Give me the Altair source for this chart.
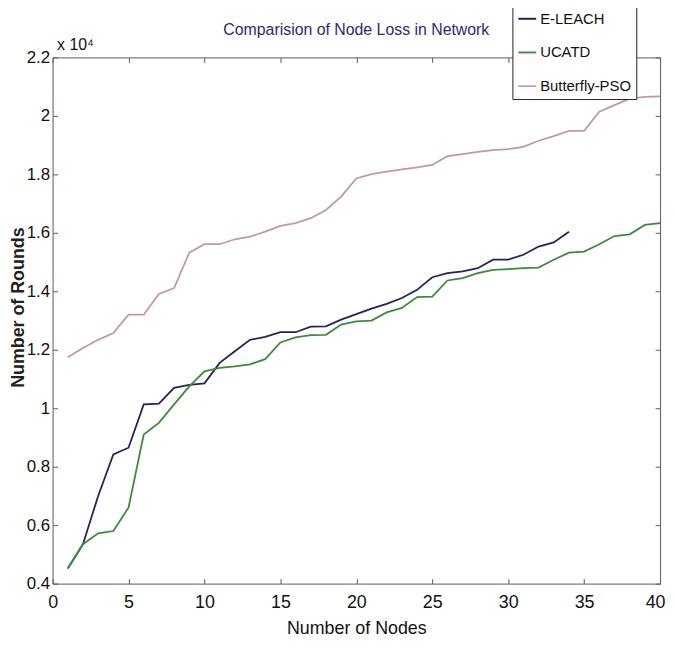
import altair as alt
import pandas as pd

# ---- data (Number of Rounds) ----
series_names = ["E-LEACH", "UCATD", "Butterfly-PSO"]
series_colors = ["#23235e", "#3d8a3d", "#c39a9a"]

eleach_nodes = list(range(1, 35))
eleach_rounds = [4520, 5350, 7000, 8420, 8650, 10130, 10160, 10700, 10800, 10850,
                 11550, 11950, 12340, 12440, 12600, 12600, 12790, 12800, 13030, 13220,
                 13410, 13570, 13770, 14050, 14480, 14620, 14680, 14790, 15080, 15080,
                 15250, 15530, 15670, 16040]

ucatd_nodes = list(range(1, 41))
ucatd_rounds = [4520, 5350, 5720, 5800, 6600, 9100, 9500, 10130, 10750, 11260,
                11380, 11430, 11500, 11680, 12250, 12420, 12500, 12510, 12860, 12970,
                13000, 13280, 13430, 13800, 13820, 14370, 14450, 14620, 14730, 14760,
                14790, 14810, 15080, 15320, 15360, 15610, 15890, 15950, 16270, 16330]

bpso_nodes = list(range(1, 41))
bpso_rounds = [11740, 12060, 12340, 12570, 13200, 13200, 13910, 14110, 15320, 15610,
               15610, 15780, 15870, 16040, 16240, 16330, 16500, 16780, 17240, 17860,
               18010, 18090, 18170, 18240, 18320, 18620, 18690, 18770, 18830, 18860,
               18940, 19150, 19310, 19490, 19490, 20140, 20370, 20590, 20650, 20670]

x_ticks = [0, 5, 10, 15, 20, 25, 30, 35, 40]
y_ticks = [4000, 6000, 8000, 10000, 12000, 14000, 16000, 18000, 20000, 22000]

frames = []
for name, nodes, rounds in [("E-LEACH", eleach_nodes, eleach_rounds),
                            ("UCATD", ucatd_nodes, ucatd_rounds),
                            ("Butterfly-PSO", bpso_nodes, bpso_rounds)]:
    frames.append(pd.DataFrame({"Nodes": nodes, "Rounds": rounds, "Protocol": name}))
df = pd.concat(frames, ignore_index=True)

FONT = "Liberation Sans, Arial, sans-serif"
AXC = "#5a5a5a"

x_scale = alt.Scale(domain=[0, 40], nice=False, zero=False)
y_scale = alt.Scale(domain=[4000, 22000], nice=False, zero=False)

color = alt.Color(
    "Protocol:N",
    scale=alt.Scale(domain=series_names, range=series_colors),
    sort=series_names,
    legend=alt.Legend(
        title=None, orient="none", legendX=464, legendY=-54,
        symbolType="stroke", symbolSize=324, symbolStrokeWidth=1.6,
        labelFont=FONT, labelFontSize=15, labelColor="#111111",
        labelOffset=3, rowPadding=16, padding=5,
        fillColor="white", strokeColor="#222222",
    ),
)

lines = alt.Chart(df).mark_line(strokeWidth=1.8).encode(
    x=alt.X("Nodes:Q", scale=x_scale,
            axis=alt.Axis(values=x_ticks, orient="bottom", offset=-5, tickSize=5,
                          domain=False, grid=False, tickColor=AXC,
                          labelFont=FONT, labelFontSize=18, labelColor="#111111",
                          labelPadding=10, labelFlush=True, labelFlushOffset=5,
                          title="Number of Nodes",
                          titleFont=FONT, titleFontSize=18, titleFontWeight="normal",
                          titleColor="#111111", titlePadding=8)),
    y=alt.Y("Rounds:Q", scale=y_scale,
            axis=alt.Axis(values=y_ticks, orient="left", offset=-5, tickSize=5,
                          domain=False, grid=False, tickColor=AXC,
                          labelExpr="format(datum.value / 10000, '.1~f')",
                          labelFont=FONT, labelFontSize=17, labelColor="#111111",
                          labelPadding=3, title="Number of Rounds",
                          titleFont=FONT, titleFontSize=18,
                          titleFontWeight="bold", titleColor="#222222",
                          titleX=-39, titleY=252, titleAngle=270,
                          titleAlign="center", titleBaseline="middle")),
    color=color,
    strokeWidth=alt.StrokeWidth("Protocol:N",
                                scale=alt.Scale(domain=series_names, range=[2.0, 1.7, 1.2]),
                                legend=None),
)

mirror = alt.Chart(df).mark_line(opacity=0).encode(
    x=alt.X("Nodes:Q", scale=x_scale,
            axis=alt.Axis(values=x_ticks, orient="top", offset=-5, tickSize=5,
                          domain=False, grid=False, tickColor=AXC, labels=False,
                          title="x 10⁴", titleFont=FONT, titleFontSize=16,
                          titleFontWeight="normal", titleColor="#111111",
                          titleAnchor="start", titleAlign="left", titleAngle=0,
                          titleX=4, titleY=-13, titleBaseline="alphabetic")),
    y=alt.Y("Rounds:Q", scale=y_scale,
            axis=alt.Axis(values=y_ticks, orient="right", offset=-5, tickSize=5,
                          domain=False, grid=False, tickColor=AXC, labels=False,
                          title=None)),
    detail="Protocol:N",
)

chart = alt.layer(lines, mirror).resolve_axis(
    x="independent", y="independent"
).properties(
    width=613, height=531,
    title=alt.TitleParams("Comparision of Node Loss in Network", font=FONT,
                          fontSize=16, fontWeight="normal", color="#2a2a72",
                          anchor="middle", offset=0, dy=35),
    autosize=alt.AutoSizeParams(type="none"),
    padding={"left": 45, "top": 47, "right": 6, "bottom": 53},
).configure_view(stroke=AXC, strokeWidth=1)

chart.save("out.html", embed_options={"renderer": "svg", "actions": False})
